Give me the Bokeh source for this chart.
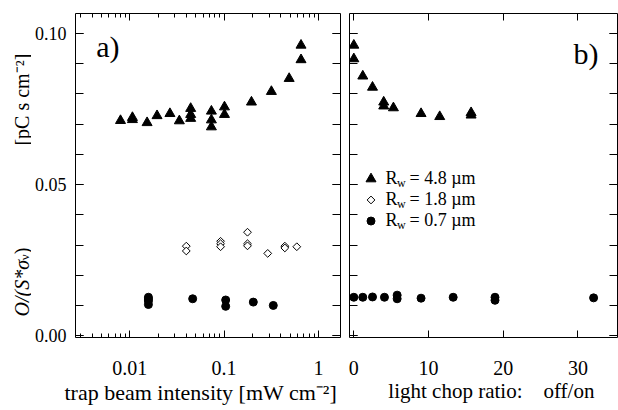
import numpy as np
from bokeh.plotting import figure
from bokeh.layouts import row
from bokeh.models import (Range1d, LinearAxis, LogAxis, FixedTicker, Label, Title,
                          CustomJSTickFormatter, PrintfTickFormatter)
from bokeh.embed import file_html
from bokeh.resources import INLINE

# ---------------- data ----------------
# panel a: vs trap beam intensity [mW cm^-2]
a_tri_x = [0.0080, 0.0107, 0.0107, 0.0153, 0.0195, 0.0267, 0.0336, 0.0443, 0.0443, 0.0443,
           0.0734, 0.0734, 0.0734, 0.101, 0.101, 0.195, 0.317, 0.489, 0.653, 0.653]
a_tri_y = [0.0712, 0.0722, 0.0715, 0.0705, 0.0728, 0.0735, 0.0711, 0.0752, 0.0732, 0.0719,
           0.0743, 0.0714, 0.0691, 0.0757, 0.0732, 0.0773, 0.0808, 0.0851, 0.0913, 0.0961]
a_dia_x = [0.0398, 0.0398, 0.0918, 0.0918, 0.0918, 0.177, 0.177, 0.177, 0.290, 0.440, 0.440, 0.589]
a_dia_y = [0.0297, 0.0281, 0.0313, 0.0305, 0.0295, 0.0343, 0.0305, 0.0298, 0.0273, 0.0297, 0.0291, 0.0295]
a_cir_x = [0.0158, 0.0158, 0.0158, 0.0158, 0.0465, 0.104, 0.104, 0.204, 0.332]
a_cir_y = [0.0128, 0.0122, 0.0116, 0.0104, 0.0123, 0.0119, 0.0098, 0.0112, 0.0101]
# panel b: vs light chop ratio off/on
b_tri_x = [0, 0, 1.2, 2.5, 4.0, 4.0, 5.3, 9.0, 11.5, 15.7, 15.7]
b_tri_y = [0.0961, 0.0916, 0.0859, 0.0822, 0.0773, 0.0760, 0.0754, 0.0735, 0.0725, 0.0738, 0.0730]
b_cir_x = [0, 1.2, 2.5, 4.1, 5.8, 5.8, 9.0, 13.3, 18.9, 18.9, 32.1]
b_cir_y = [0.0128, 0.0128, 0.0129, 0.0128, 0.0135, 0.0123, 0.0125, 0.0128, 0.0128, 0.0118, 0.0126]

legend_labels = ["= 4.8 µm", "= 1.8 µm", "= 0.7 µm"]

y_major = [0.0, 0.05, 0.10]
y_minor = [round(0.01 * i, 2) for i in range(11)]
a_x_major = [0.01, 0.1, 1.0]
a_x_minor = [m * 10.0 ** e for e in (-3, -2, -1, 0) for m in range(2, 10)]
b_x_major = [0, 10, 20, 30]

# ---------------- layout constants ----------------
FONT = "Liberation Serif"
A_X0, A_X1 = 0.00267, 1.71
B_X0, B_X1 = -0.58, 35.3
Y0, Y1 = -0.0005, 0.1066
H = 408
TOP, BOT = 13, 64
L_W = 31                 # narrow strip holding the rotated y-axis title
A_W, B_W = 314, 273
A_L, A_R = 41, 5
B_L, B_R = 4, 1

FA_L, FA_R = L_W + A_L, L_W + A_W - A_R
FB_L, FB_R = L_W + A_W + B_L, L_W + A_W + B_W - B_R
F_T, F_B = TOP, H - BOT


def a_px(px):
    l0, l1 = np.log10(A_X0), np.log10(A_X1)
    return 10 ** (l0 + (px - FA_L) / (FA_R - FA_L) * (l1 - l0))


def b_px(px):
    return B_X0 + (px - FB_L) / (FB_R - FB_L) * (B_X1 - B_X0)


def py(pyv):
    return Y1 - (pyv - F_T) / (F_B - F_T) * (Y1 - Y0)


def make_fig(width, xr, xtype, mbl, mbr):
    p = figure(width=width, height=H, x_range=xr, y_range=Range1d(Y0, Y1),
               x_axis_type=xtype, output_backend="svg", toolbar_location=None,
               min_border_left=mbl, min_border_right=mbr,
               min_border_top=TOP, min_border_bottom=BOT)
    p.grid.visible = False
    p.outline_line_color = None
    p.background_fill_color = "white"
    p.border_fill_color = "white"
    return p


def style(ax, ticker, tin, minin, labels, formatter=None, standoff=8, size="20px"):
    ax.ticker = ticker
    ax.major_tick_in = tin
    ax.major_tick_out = 0
    ax.minor_tick_in = minin
    ax.minor_tick_out = 0
    ax.axis_line_color = "black"
    ax.major_tick_line_color = "black"
    ax.minor_tick_line_color = "black"
    ax.major_label_text_font = FONT
    ax.major_label_text_color = "black"
    ax.axis_label_text_font = FONT
    ax.axis_label_text_font_style = "normal"
    ax.axis_label_text_color = "black"
    ax.axis_label_text_font_size = "21px"
    if labels:
        ax.major_label_text_font_size = size
        ax.major_label_standoff = standoff
        if formatter is not None:
            ax.formatter = formatter
    else:
        ax.formatter = CustomJSTickFormatter(code="return ''")
        ax.major_label_text_font_size = "0px"
        ax.major_label_standoff = 0


# ---------------- y-axis title strip ----------------
# its frame is aligned with the panels' frames (F_T..F_B), so the y range is in page pixels
pl = figure(width=L_W, height=H, x_range=Range1d(0, L_W), y_range=Range1d(F_B, F_T),
            output_backend="svg", toolbar_location=None,
            x_axis_location=None, y_axis_location=None,
            min_border_left=0, min_border_right=0, min_border_top=TOP, min_border_bottom=BOT)
pl.grid.visible = False
pl.outline_line_color = None
pl.background_fill_color = "white"
pl.border_fill_color = "white"
YT_MID = 21
ytitle_parts = [
    # text, centre y (px from top), x shift, size, style
    ("[pC s cm\u207b\u00b2]", 101, 0, "20px", "normal"),
    ("O/(S*σ", 293.6, 0, "20px", "italic"),
    ("ν", 262.0, 3, "13px", "normal"),
    (")", 255.5, 0, "20px", "normal"),
]
for txt, cy, dx, fs, st in ytitle_parts:
    pl.add_layout(Label(x=YT_MID + dx, y=cy, text=txt, angle=np.pi / 2,
                        text_font=FONT, text_font_size=fs, text_font_style=st,
                        text_color="black", text_align="center", text_baseline="middle"))

# ---------------- panel a ----------------
pa = make_fig(A_W, Range1d(A_X0, A_X1), "log", A_L, A_R)
pa.add_layout(LogAxis(), "above")
pa.add_layout(LinearAxis(), "right")
yfmt = PrintfTickFormatter(format="%.2f")
xfmt = CustomJSTickFormatter(code="return tick.toString()")
style(pa.below[0], FixedTicker(ticks=a_x_major, minor_ticks=a_x_minor), 7, 4, True, xfmt, standoff=23)
style(pa.above[0], FixedTicker(ticks=a_x_major, minor_ticks=a_x_minor), 7, 4, False)
style(pa.left[0], FixedTicker(ticks=y_major, minor_ticks=y_minor), 8, 8, True, yfmt,
      standoff=9, size="18px")
style(pa.right[0], FixedTicker(ticks=y_major, minor_ticks=y_minor), 8, 8, False)
pa.add_layout(Title(text="trap beam intensity [mW cm\u207b\u00b2]", align="left", offset=-11,
                    standoff=4, vertical_align="top", text_font=FONT, text_font_size="22px",
                    text_font_style="normal", text_color="black"), "below")

pa.scatter(a_tri_x, a_tri_y, marker="triangle", size=10, color="black")
pa.scatter(a_dia_x, a_dia_y, marker="square", angle=np.pi / 4, size=5.5,
           fill_color="white", line_color="black", line_width=1)
pa.scatter(a_cir_x, a_cir_y, marker="circle", size=8, color="black")

pa.add_layout(Label(x=a_px(93), y=py(47), text="a)", text_font=FONT, text_font_size="30px",
                    text_color="black", text_align="left", text_baseline="alphabetic"))

# ---------------- panel b ----------------
pb = make_fig(B_W, Range1d(B_X0, B_X1), "linear", B_L, B_R)
pb.add_layout(LinearAxis(), "above")
pb.add_layout(LinearAxis(), "right")
style(pb.below[0], FixedTicker(ticks=b_x_major), 7, 4, True, standoff=23)
style(pb.above[0], FixedTicker(ticks=b_x_major), 7, 4, False)
style(pb.left[0], FixedTicker(ticks=y_major, minor_ticks=y_minor), 8, 8, False)
style(pb.right[0], FixedTicker(ticks=y_major, minor_ticks=y_minor), 8, 8, False)
pb.below[0].axis_label = "\u00a0\u00a0\u00a0light chop ratio:\u00a0\u00a0\u00a0 off/on"
pb.below[0].axis_label_standoff = 1

pb.scatter(b_tri_x, b_tri_y, marker="triangle", size=10, color="black")
pb.scatter(b_cir_x, b_cir_y, marker="circle", size=8, color="black")

pb.add_layout(Label(x=b_px(573), y=py(54), text="b)", text_font=FONT, text_font_size="30px",
                    text_color="black", text_align="left", text_baseline="alphabetic"))

# legend (keys + texts with subscript w)
key_px_x = 370.5
rows_cy = [182, 203.5, 225]
key_x = [b_px(key_px_x)] * 3
key_y = [py(c) for c in rows_cy]
pb.scatter(key_x[0:1], key_y[0:1], marker="triangle", size=10, color="black")
pb.scatter(key_x[1:2], key_y[1:2], marker="square", angle=np.pi / 4, size=5.5,
           fill_color="white", line_color="black", line_width=1)
pb.scatter(key_x[2:3], key_y[2:3], marker="circle", size=8, color="black")
for lab, cy in zip(legend_labels, rows_cy):
    pb.add_layout(Label(x=b_px(385), y=py(cy - 1), text="R", text_font=FONT,
                        text_font_size="18px", text_color="black",
                        text_align="left", text_baseline="middle"))
    pb.add_layout(Label(x=b_px(396.5), y=py(cy + 4), text="w", text_font=FONT,
                        text_font_size="12px", text_color="black",
                        text_align="left", text_baseline="middle"))
    pb.add_layout(Label(x=b_px(409), y=py(cy - 1), text=lab, text_font=FONT,
                        text_font_size="18px", text_color="black",
                        text_align="left", text_baseline="middle"))

layout = row(pl, pa, pb)
open("out.html", "w").write(file_html(layout, INLINE))
